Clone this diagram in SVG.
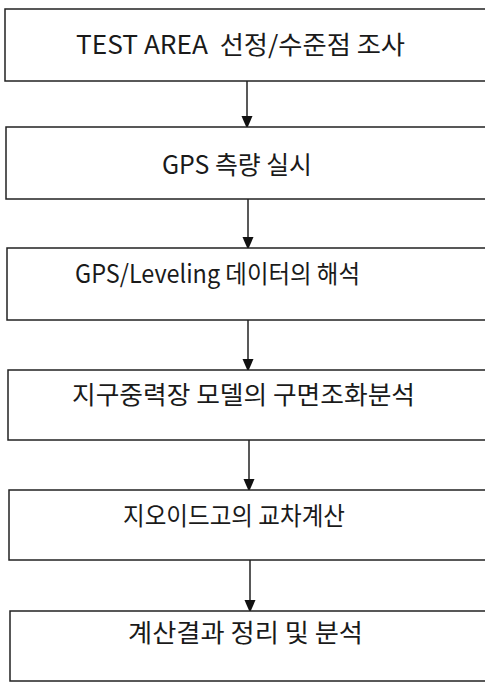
<svg xmlns="http://www.w3.org/2000/svg" width="485" height="682" viewBox="0 0 485 682">
<style>
.box{fill:#fff;stroke:#222;stroke-width:1.5}
.lbl{font-family:"Noto Sans CJK KR","Noto Sans",sans-serif;font-size:25px;fill:#1a1a1a}
.con{stroke:#222;stroke-width:1.5;fill:none}
</style>
<defs>
<marker id="ah" markerWidth="13" markerHeight="15" refX="13" refY="6.5" orient="auto" markerUnits="userSpaceOnUse" viewBox="0 0 15 13">
<path d="M0,0 L15,6.5 L0,13 Z" fill="#111"/>
</marker>
</defs>
<rect width="485" height="682" fill="#fff"/>
<g id="connectors">
<line class="con" x1="247" y1="81" x2="247" y2="127" marker-end="url(#ah)"/>
<line class="con" x1="248" y1="199" x2="248" y2="248" marker-end="url(#ah)"/>
<line class="con" x1="248" y1="320" x2="248" y2="370" marker-end="url(#ah)"/>
<line class="con" x1="249" y1="440" x2="249" y2="490" marker-end="url(#ah)"/>
<line class="con" x1="250" y1="560" x2="250" y2="611" marker-end="url(#ah)"/>
</g>
<g id="n1">
<rect class="box" x="5" y="9" width="500" height="72"/>
<text class="lbl" x="76" y="54" textLength="329" lengthAdjust="spacingAndGlyphs" style="white-space:pre">TEST AREA  선정/수준점 조사</text>
</g>
<g id="n2">
<rect class="box" x="6" y="127" width="500" height="72"/>
<text class="lbl" x="162" y="174" textLength="150" lengthAdjust="spacingAndGlyphs">GPS 측량 실시</text>
</g>
<g id="n3">
<rect class="box" x="7" y="248" width="500" height="72"/>
<text class="lbl" x="75" y="283" textLength="285" lengthAdjust="spacingAndGlyphs">GPS/Leveling 데이터의 해석</text>
</g>
<g id="n4">
<rect class="box" x="8" y="370" width="500" height="70"/>
<text class="lbl" x="72" y="404" textLength="343" lengthAdjust="spacingAndGlyphs">지구중력장 모델의 구면조화분석</text>
</g>
<g id="n5">
<rect class="box" x="9" y="490" width="500" height="70"/>
<text class="lbl" x="123" y="525" textLength="222" lengthAdjust="spacingAndGlyphs">지오이드고의 교차계산</text>
</g>
<g id="n6">
<rect class="box" x="10" y="611" width="500" height="70"/>
<text class="lbl" x="128" y="642" textLength="235" lengthAdjust="spacingAndGlyphs">계산결과 정리 및 분석</text>
</g>
</svg>
